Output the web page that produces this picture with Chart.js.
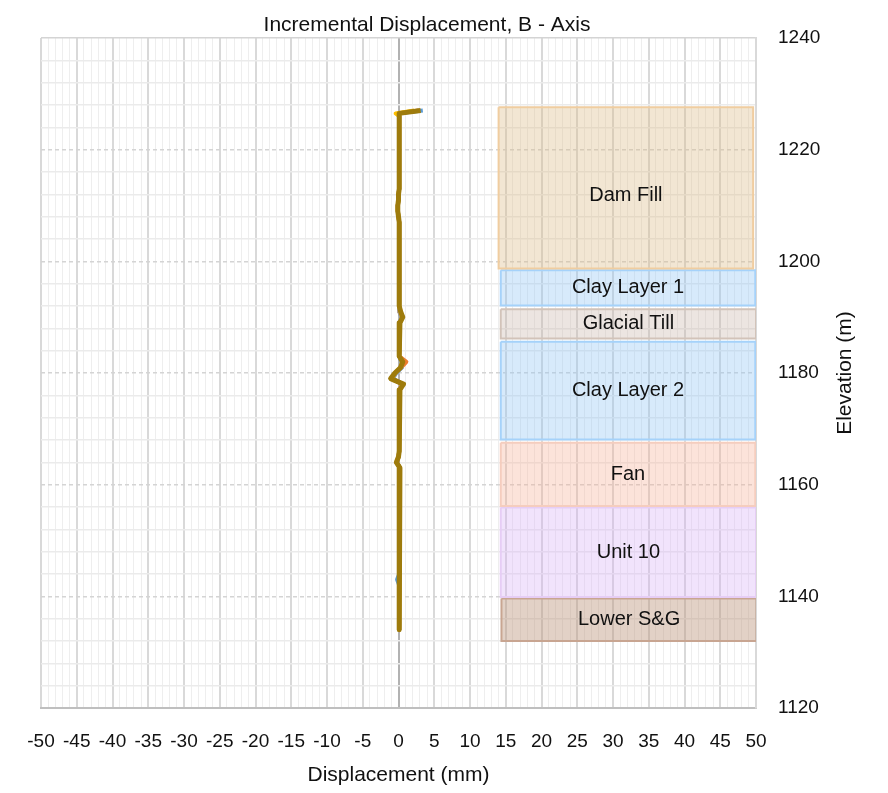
<!DOCTYPE html>
<html>
<head>
<meta charset="utf-8">
<title>Incremental Displacement, B - Axis</title>
<script src="https://cdn.jsdelivr.net/npm/chart.js@4.4.1/dist/chart.umd.min.js"></script>
<style>
  html, body { margin: 0; padding: 0; background: #fff; }
  #wrap { width: 888px; height: 793px; }
</style>
</head>
<body>
<div id="wrap"><canvas id="incChart" width="888" height="793"></canvas></div>
<script>
// Reading stations (elevation, m)
const elevation = [
  1227, 1226.5,
  1226, 1225, 1224, 1223, 1222, 1221, 1220, 1219, 1218, 1217,
  1216, 1215, 1214, 1213, 1212, 1211, 1210, 1209, 1208, 1207,
  1206, 1205, 1204, 1203, 1202, 1201, 1200, 1199, 1198, 1197,
  1196, 1195, 1194, 1193, 1192, 1191, 1190, 1189, 1188, 1187,
  1186, 1185, 1184, 1183, 1182, 1181, 1180, 1179, 1178, 1177,
  1176, 1175, 1174, 1173, 1172, 1171, 1170, 1169, 1168, 1167,
  1166, 1165, 1164, 1163, 1162, 1161, 1160, 1159, 1158, 1157,
  1156, 1155, 1154, 1153, 1152, 1151, 1150, 1149, 1148, 1147,
  1146, 1145, 1144, 1143, 1142, 1141, 1140, 1139, 1138, 1137,
  1136, 1135, 1134
];

// Incremental displacement per reading (mm)
const dispRead1 = [
  3.4, 0.0,
  0.1, 0.1, 0.1, 0.1, 0.1, 0.1, 0.1, 0.1, 0.1, 0.1,
  0.1, 0.1, 0.1, 0.1, 0.0, 0.0, -0.1, -0.1, 0.0, 0.1,
  0.1, 0.1, 0.1, 0.1, 0.1, 0.1, 0.1, 0.1, 0.1, 0.1,
  0.1, 0.1, 0.1, 0.1, 0.1, 0.2, 0.4, 0.2, 0.1, 0.1,
  0.1, 0.1, 0.1, 0.1, 0.4, 0.5, -0.3, -0.8, 0.5, 0.2,
  0.1, 0.1, 0.1, 0.1, 0.1, 0.1, 0.1, 0.1, 0.1, 0.1,
  0.1, 0.0, -0.2, 0.2, 0.1, 0.1, 0.1, 0.1, 0.1, 0.1,
  0.1, 0.1, 0.1, 0.1, 0.1, 0.1, 0.1, 0.1, 0.1, 0.1,
  0.1, 0.1, 0.1, -0.2, 0.1, 0.1, 0.1, 0.1, 0.1, 0.1,
  0.1, 0.1, 0.1
];
const dispRead2 = [
  2.8, -0.1,
  0.1, 0.1, 0.1, 0.1, 0.1, 0.1, 0.1, 0.1, 0.1, 0.1,
  0.1, 0.1, 0.1, 0.1, 0.0, 0.0, -0.1, -0.1, 0.0, 0.1,
  0.1, 0.1, 0.1, 0.1, 0.1, 0.1, 0.1, 0.1, 0.1, 0.1,
  0.1, 0.1, 0.1, 0.1, 0.1, 0.2, 0.5, 0.2, 0.1, 0.1,
  0.1, 0.1, 0.1, 0.2, 1.1, 0.4, -0.4, -0.9, 0.5, 0.1,
  0.1, 0.1, 0.1, 0.1, 0.1, 0.1, 0.1, 0.1, 0.1, 0.1,
  0.1, 0.0, -0.2, 0.2, 0.1, 0.1, 0.1, 0.1, 0.1, 0.1,
  0.1, 0.1, 0.1, 0.1, 0.1, 0.1, 0.1, 0.1, 0.1, 0.1,
  0.1, 0.1, 0.1, 0.1, 0.1, 0.1, 0.1, 0.1, 0.1, 0.1,
  0.1, 0.1, 0.1
];
const dispRead3 = [
  2.9, 0.0,
  0.1, 0.1, 0.1, 0.1, 0.1, 0.1, 0.1, 0.1, 0.1, 0.1,
  0.1, 0.1, 0.1, 0.1, 0.0, 0.0, -0.1, -0.1, 0.0, 0.1,
  0.1, 0.1, 0.1, 0.1, 0.1, 0.1, 0.1, 0.1, 0.1, 0.1,
  0.1, 0.1, 0.1, 0.1, 0.1, 0.2, 0.5, 0.2, 0.1, 0.1,
  0.1, 0.1, 0.1, 0.1, 0.5, 0.4, -0.4, -1.0, 0.6, 0.1,
  0.1, 0.1, 0.1, 0.1, 0.1, 0.1, 0.1, 0.1, 0.1, 0.1,
  0.1, 0.0, -0.2, 0.2, 0.1, 0.1, 0.1, 0.1, 0.1, 0.1,
  0.1, 0.1, 0.1, 0.1, 0.1, 0.1, 0.1, 0.1, 0.1, 0.1,
  0.1, 0.1, 0.1, 0.1, 0.1, 0.1, 0.1, 0.1, 0.1, 0.1,
  0.1, 0.1, 0.1
];
const dispRead4 = [
  2.2, -0.4,
  0.1, 0.1, 0.1, 0.1, 0.1, 0.1, 0.1, 0.1, 0.1, 0.1,
  0.1, 0.1, 0.1, 0.1, 0.0, 0.0, -0.1, -0.1, 0.0, 0.1,
  0.1, 0.1, 0.1, 0.1, 0.1, 0.1, 0.1, 0.1, 0.1, 0.1,
  0.1, 0.1, 0.1, 0.1, 0.1, 0.3, 0.5, 0.2, 0.1, 0.1,
  0.1, 0.1, 0.1, 0.1, 0.5, 0.3, -0.5, -1.0, 0.6, 0.2,
  0.1, 0.1, 0.1, 0.1, 0.1, 0.1, 0.1, 0.1, 0.1, 0.1,
  0.1, 0.0, -0.3, 0.2, 0.1, 0.1, 0.1, 0.1, 0.1, 0.1,
  0.1, 0.1, 0.1, 0.1, 0.1, 0.1, 0.1, 0.1, 0.1, 0.1,
  0.1, 0.1, 0.1, 0.1, 0.1, 0.1, 0.1, 0.1, 0.1, 0.1,
  0.1, 0.1, 0.1
];
const dispRead5 = [
  3.1, 0.1,
  0.1, 0.1, 0.1, 0.1, 0.1, 0.1, 0.1, 0.1, 0.1, 0.1,
  0.1, 0.1, 0.1, 0.1, 0.0, 0.0, -0.1, -0.1, 0.0, 0.1,
  0.1, 0.1, 0.1, 0.1, 0.1, 0.1, 0.1, 0.1, 0.1, 0.1,
  0.1, 0.1, 0.1, 0.1, 0.1, 0.3, 0.6, 0.2, 0.1, 0.1,
  0.1, 0.1, 0.1, 0.1, 0.6, 0.3, -0.5, -1.1, 0.7, 0.2,
  0.1, 0.1, 0.1, 0.1, 0.1, 0.1, 0.1, 0.1, 0.1, 0.1,
  0.1, 0.0, -0.3, 0.2, 0.1, 0.1, 0.1, 0.1, 0.1, 0.1,
  0.1, 0.1, 0.1, 0.1, 0.1, 0.1, 0.1, 0.1, 0.1, 0.1,
  0.1, 0.1, 0.1, 0.1, 0.1, 0.1, 0.1, 0.1, 0.1, 0.1,
  0.1, 0.1, 0.1
];

// Soil layers: elevation range (m) and displacement extent (mm) of each box
const layerNames = ['Dam Fill', 'Clay Layer 1', 'Glacial Till', 'Clay Layer 2', 'Fan', 'Unit 10', 'Lower S&G'];
const layerTop = [1227.6, 1198.4, 1191.4, 1185.6, 1167.5, 1155.9, 1139.6];
const layerBottom = [1198.7, 1192.1, 1186.2, 1168.1, 1156.2, 1139.9, 1132.0];
const layerLeft = [14.0, 14.3, 14.3, 14.3, 14.3, 14.3, 14.4];
const layerRight = [49.6, 49.9, 50.0, 49.9, 49.9, 50.0, 50.1];
// elevation of each layer name
const layerLabelElev = [1211.8, 1195.3, 1188.8, 1176.9, 1161.9, 1147.9, 1135.8];

const layerFill = [
  'rgba(222, 190, 140, 0.38)',
  'rgba(150, 200, 245, 0.38)',
  'rgba(200, 180, 170, 0.35)',
  'rgba(150, 200, 245, 0.38)',
  'rgba(245, 175, 150, 0.35)',
  'rgba(215, 175, 245, 0.35)',
  'rgba(185, 145, 120, 0.42)'
];
const layerLine = [
  'rgba(240, 205, 160, 1)',
  'rgba(165, 210, 250, 1)',
  'rgba(210, 195, 185, 1)',
  'rgba(165, 210, 250, 1)',
  'rgba(245, 205, 190, 1)',
  'rgba(230, 205, 245, 1)',
  'rgba(200, 165, 145, 1)'
];

const readColors = ['#5b9bd5', '#ed7d31', '#a5a5a5', '#ffc000', '#9e7b0c'];
const readings = [dispRead1, dispRead2, dispRead3, dispRead4, dispRead5];

const chartTitle = 'Incremental Displacement, B - Axis';
const yTitle = 'Elevation (m)';

Chart.defaults.font.family = '"Liberation Sans", Arial, sans-serif';
Chart.defaults.color = '#111';

// layer boxes as closed outlines
const layerSets = layerNames.map((name, i) => ({
  label: name,
  data: [
    { x: layerLeft[i], y: layerTop[i] },
    { x: layerRight[i], y: layerTop[i] },
    { x: layerRight[i], y: layerBottom[i] },
    { x: layerLeft[i], y: layerBottom[i] },
    { x: layerLeft[i], y: layerTop[i] }
  ],
  showLine: true,
  fill: 'shape',
  backgroundColor: layerFill[i],
  borderColor: layerLine[i],
  borderWidth: 2,
  pointRadius: 0,
  tension: 0,
  order: 20
}));

// inclinometer readings, last one on top
const readSets = readings.map((vals, i) => ({
  label: 'Reading ' + (i + 1),
  data: vals.map((v, k) => ({ x: v, y: elevation[k] })),
  showLine: true,
  fill: false,
  borderColor: readColors[i],
  backgroundColor: readColors[i],
  borderWidth: i === readings.length - 1 ? 5 : 4,
  borderJoinStyle: 'round',
  pointRadius: 0,
  tension: 0,
  order: readings.length - i
}));

// text inside the layer boxes, chart title and rotated elevation title
const layerText = {
  id: 'layerText',
  afterDatasetsDraw(chart) {
    const { ctx, scales: { x, y } } = chart;
    ctx.save();
    ctx.font = '20px "Liberation Sans", Arial, sans-serif';
    ctx.fillStyle = '#111';
    ctx.textAlign = 'center';
    ctx.textBaseline = 'middle';
    layerNames.forEach((name, i) => {
      const cx = x.getPixelForValue((layerLeft[i] + layerRight[i]) / 2);
      const cy = y.getPixelForValue(layerLabelElev[i]);
      ctx.fillText(name, cx, cy);
    });
    ctx.restore();
  },
  afterDraw(chart) {
    const { ctx, chartArea } = chart;
    ctx.save();
    ctx.font = '21px "Liberation Sans", Arial, sans-serif';
    ctx.fillStyle = '#111';
    ctx.textAlign = 'center';
    ctx.textBaseline = 'middle';
    ctx.fillText(chartTitle, 427, 25);
    ctx.translate(845, (chartArea.top + chartArea.bottom) / 2);
    ctx.rotate(-Math.PI / 2);
    ctx.fillText(yTitle, 0, 0);
    ctx.restore();
  }
};

const chart = new Chart(document.getElementById('incChart'), {
  type: 'scatter',
  data: { datasets: [...readSets, ...layerSets] },
  plugins: [layerText],
  options: {
    responsive: false,
    animation: false,
    devicePixelRatio: 1,
    layout: { padding: { left: 41, top: 38, right: 0, bottom: 0 } },
    plugins: {
      legend: { display: false },
      tooltip: { enabled: false },
      title: { display: false }
    },
    scales: {
      x: {
        type: 'linear',
        position: 'bottom',
        min: -50,
        max: 50,
        afterFit: (scale) => { scale.height = 85; },
        ticks: {
          stepSize: 1,
          autoSkip: false,
          maxRotation: 0,
          padding: 22,
          font: { size: 19 },
          callback: (v) => (v % 5 === 0 ? v : '')
        },
        grid: {
          drawTicks: false,
          color: (c) => (c.tick.value === 0 ? '#b2b2b2' : (c.tick.value % 5 === 0 ? '#d9d9d9' : '#eeeeee')),
          lineWidth: (c) => (c.tick.value % 5 === 0 ? 2 : 1)
        },
        border: { display: true, color: '#bfbfbf', width: 2 },
        title: {
          display: true,
          text: 'Displacement (mm)',
          font: { size: 21 },
          padding: { top: 0, bottom: 5 }
        }
      },
      y: {
        type: 'linear',
        position: 'right',
        min: 1120,
        max: 1240,
        afterFit: (scale) => { scale.width = 132; },
        ticks: {
          stepSize: 4,
          autoSkip: false,
          padding: 22,
          font: { size: 19 },
          callback: (v) => (v % 20 === 0 ? v : '')
        },
        grid: {
          drawTicks: false,
          color: (c) => (c.tick.value % 20 === 0 ? '#d4d4d4' : '#ebebeb'),
          lineWidth: 1.5
        },
        border: {
          display: true,
          color: '#d9d9d9',
          width: 2,
          dash: (c) => (c.tick && c.tick.value % 20 === 0 && c.tick.value !== 1240 ? [4, 3] : [])
        },
        title: { display: false }
      }
    }
  }
});
</script>
</body>
</html>
